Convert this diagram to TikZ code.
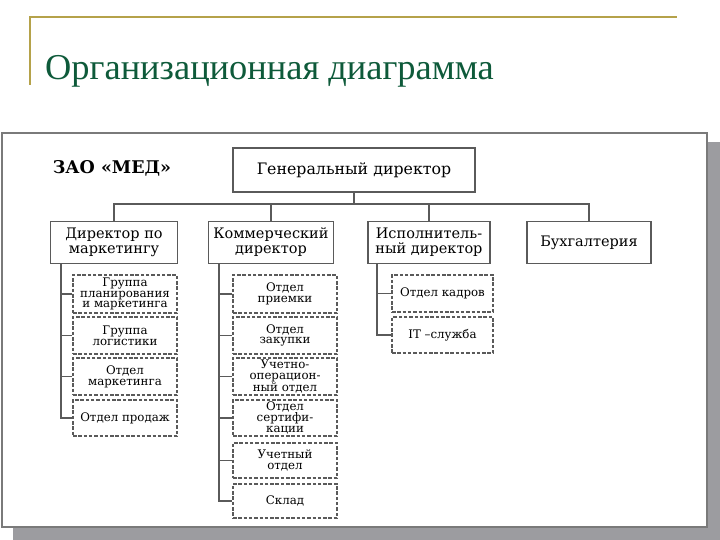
\documentclass[tikz,border=0pt]{standalone}
\usepackage{fontspec}
\setmainfont{Liberation Serif}
\newfontfamily\chartfont{DejaVu Serif}
\definecolor{goldline}{HTML}{B5A24A}
\definecolor{titlegreen}{HTML}{0E5A3A}
\definecolor{linegray}{HTML}{5A5A5A}
\definecolor{framegray}{HTML}{7A7A7A}
\definecolor{shadowgray}{HTML}{9C9CA0}
\tikzset{
  solidbox/.style={draw=linegray, line width=1.8pt, fill=white, align=center, inner sep=0pt,
    font=\chartfont\fontsize{14.5}{15}\selectfont},
  dashbox/.style={draw=linegray, line width=1.5pt, dash pattern=on 3.5pt off 1.8pt, align=center,
    inner sep=0pt, minimum height=36pt, font=\chartfont\fontsize{11.8}{10.8}\selectfont},
  conn/.style={draw=linegray, line width=1.8pt},
}
\begin{document}
\begin{tikzpicture}[x=1pt, y=-1pt]
\useasboundingbox (0,0) rectangle (720,540);
% title
\draw[goldline, line width=1.6pt] (30,85) -- (30,17) -- (677,17);
\node[anchor=base west, inner sep=0pt, text=titlegreen, font=\fontsize{36.4}{36}\selectfont] (title) at (45,80) {Организационная диаграмма};
% scan frame with shadow
\fill[shadowgray] (13,528) rectangle (720,540);
\fill[shadowgray] (708,142) rectangle (720,540);
\draw[framegray, line width=1.6pt, fill=white] (2,133) rectangle (707,527);
% heading
\node[font=\chartfont\bfseries\fontsize{17.5}{17.5}\selectfont, inner sep=0pt] (firm) at (112,168) {ЗАО «МЕД»};
% top level
\node[solidbox, minimum width=242pt, minimum height=44pt, font=\chartfont\fontsize{15.8}{16}\selectfont] (gd) at (354,170) {Генеральный директор};
% second level
\node[solidbox, minimum width=127pt, minimum height=42pt] (dm) at (114,242.5) {Директор по\\маркетингу};
\node[solidbox, minimum width=125pt, minimum height=42pt] (kd) at (271,242.5) {Коммерческий\\директор};
\node[solidbox, minimum width=122pt, minimum height=42pt] (id) at (429,242.5) {Исполнитель-\\ный директор};
\node[solidbox, minimum width=124pt, minimum height=42pt] (bh) at (589,242.5) {Бухгалтерия};
\coordinate (bus) at (354,204);
\draw[conn] (gd.south) -- (bus);
\draw[conn] (dm.north) -- (dm.north |- bus) -- (bh.north |- bus) -- (bh.north);
\draw[conn] (kd.north) -- (kd.north |- bus);
\draw[conn] (id.north) -- (id.north |- bus);
% column 1
\node[dashbox, minimum width=104pt, minimum height=38pt] (a1) at (125,294) {Группа\\планирования\\и маркетинга};
\node[dashbox, minimum width=104pt, minimum height=37pt] (a2) at (125,335.5) {Группа\\логистики};
\node[dashbox, minimum width=104pt, minimum height=37pt] (a3) at (125,376.5) {Отдел\\маркетинга};
\node[dashbox, minimum width=104pt, minimum height=36pt] (a4) at (125,418) {Отдел продаж};
\coordinate (v1) at ([xshift=11pt]dm.south west);
\draw[conn] (v1) |- (a4.west);
\foreach \n in {a1,a2,a3} \draw[conn] (\n.west) -- (\n.west -| v1);
% column 2
\node[dashbox, minimum width=104pt, minimum height=38pt] (b1) at (285,294) {Отдел\\приемки};
\node[dashbox, minimum width=104pt, minimum height=37pt] (b2) at (285,335.5) {Отдел\\закупки};
\node[dashbox, minimum width=104pt, minimum height=37pt] (b3) at (285,376.5) {Учетно-\\операцион-\\ный отдел};
\node[dashbox, minimum width=104pt, minimum height=36pt] (b4) at (285,418) {Отдел\\сертифи-\\кации};
\node[dashbox, minimum width=104pt, minimum height=35pt] (b5) at (285,460.5) {Учетный\\отдел};
\node[dashbox, minimum width=104pt, minimum height=34pt] (b6) at (285,501) {Склад};
\coordinate (v2) at ([xshift=11pt]kd.south west);
\draw[conn] (v2) |- (b6.west);
\foreach \n in {b1,b2,b3,b4,b5} \draw[conn] (\n.west) -- (\n.west -| v2);
% column 3
\node[dashbox, minimum width=101pt, minimum height=37pt] (k1) at (442.5,293.5) {Отдел кадров};
\node[dashbox, minimum width=101pt, minimum height=36pt] (k2) at (442.5,335) {IT –служба};
\coordinate (v3) at ([xshift=10pt]id.south west);
\draw[conn] (v3) |- (k2.west);
\draw[conn] (k1.west) -- (k1.west -| v3);
\end{tikzpicture}
\end{document}
